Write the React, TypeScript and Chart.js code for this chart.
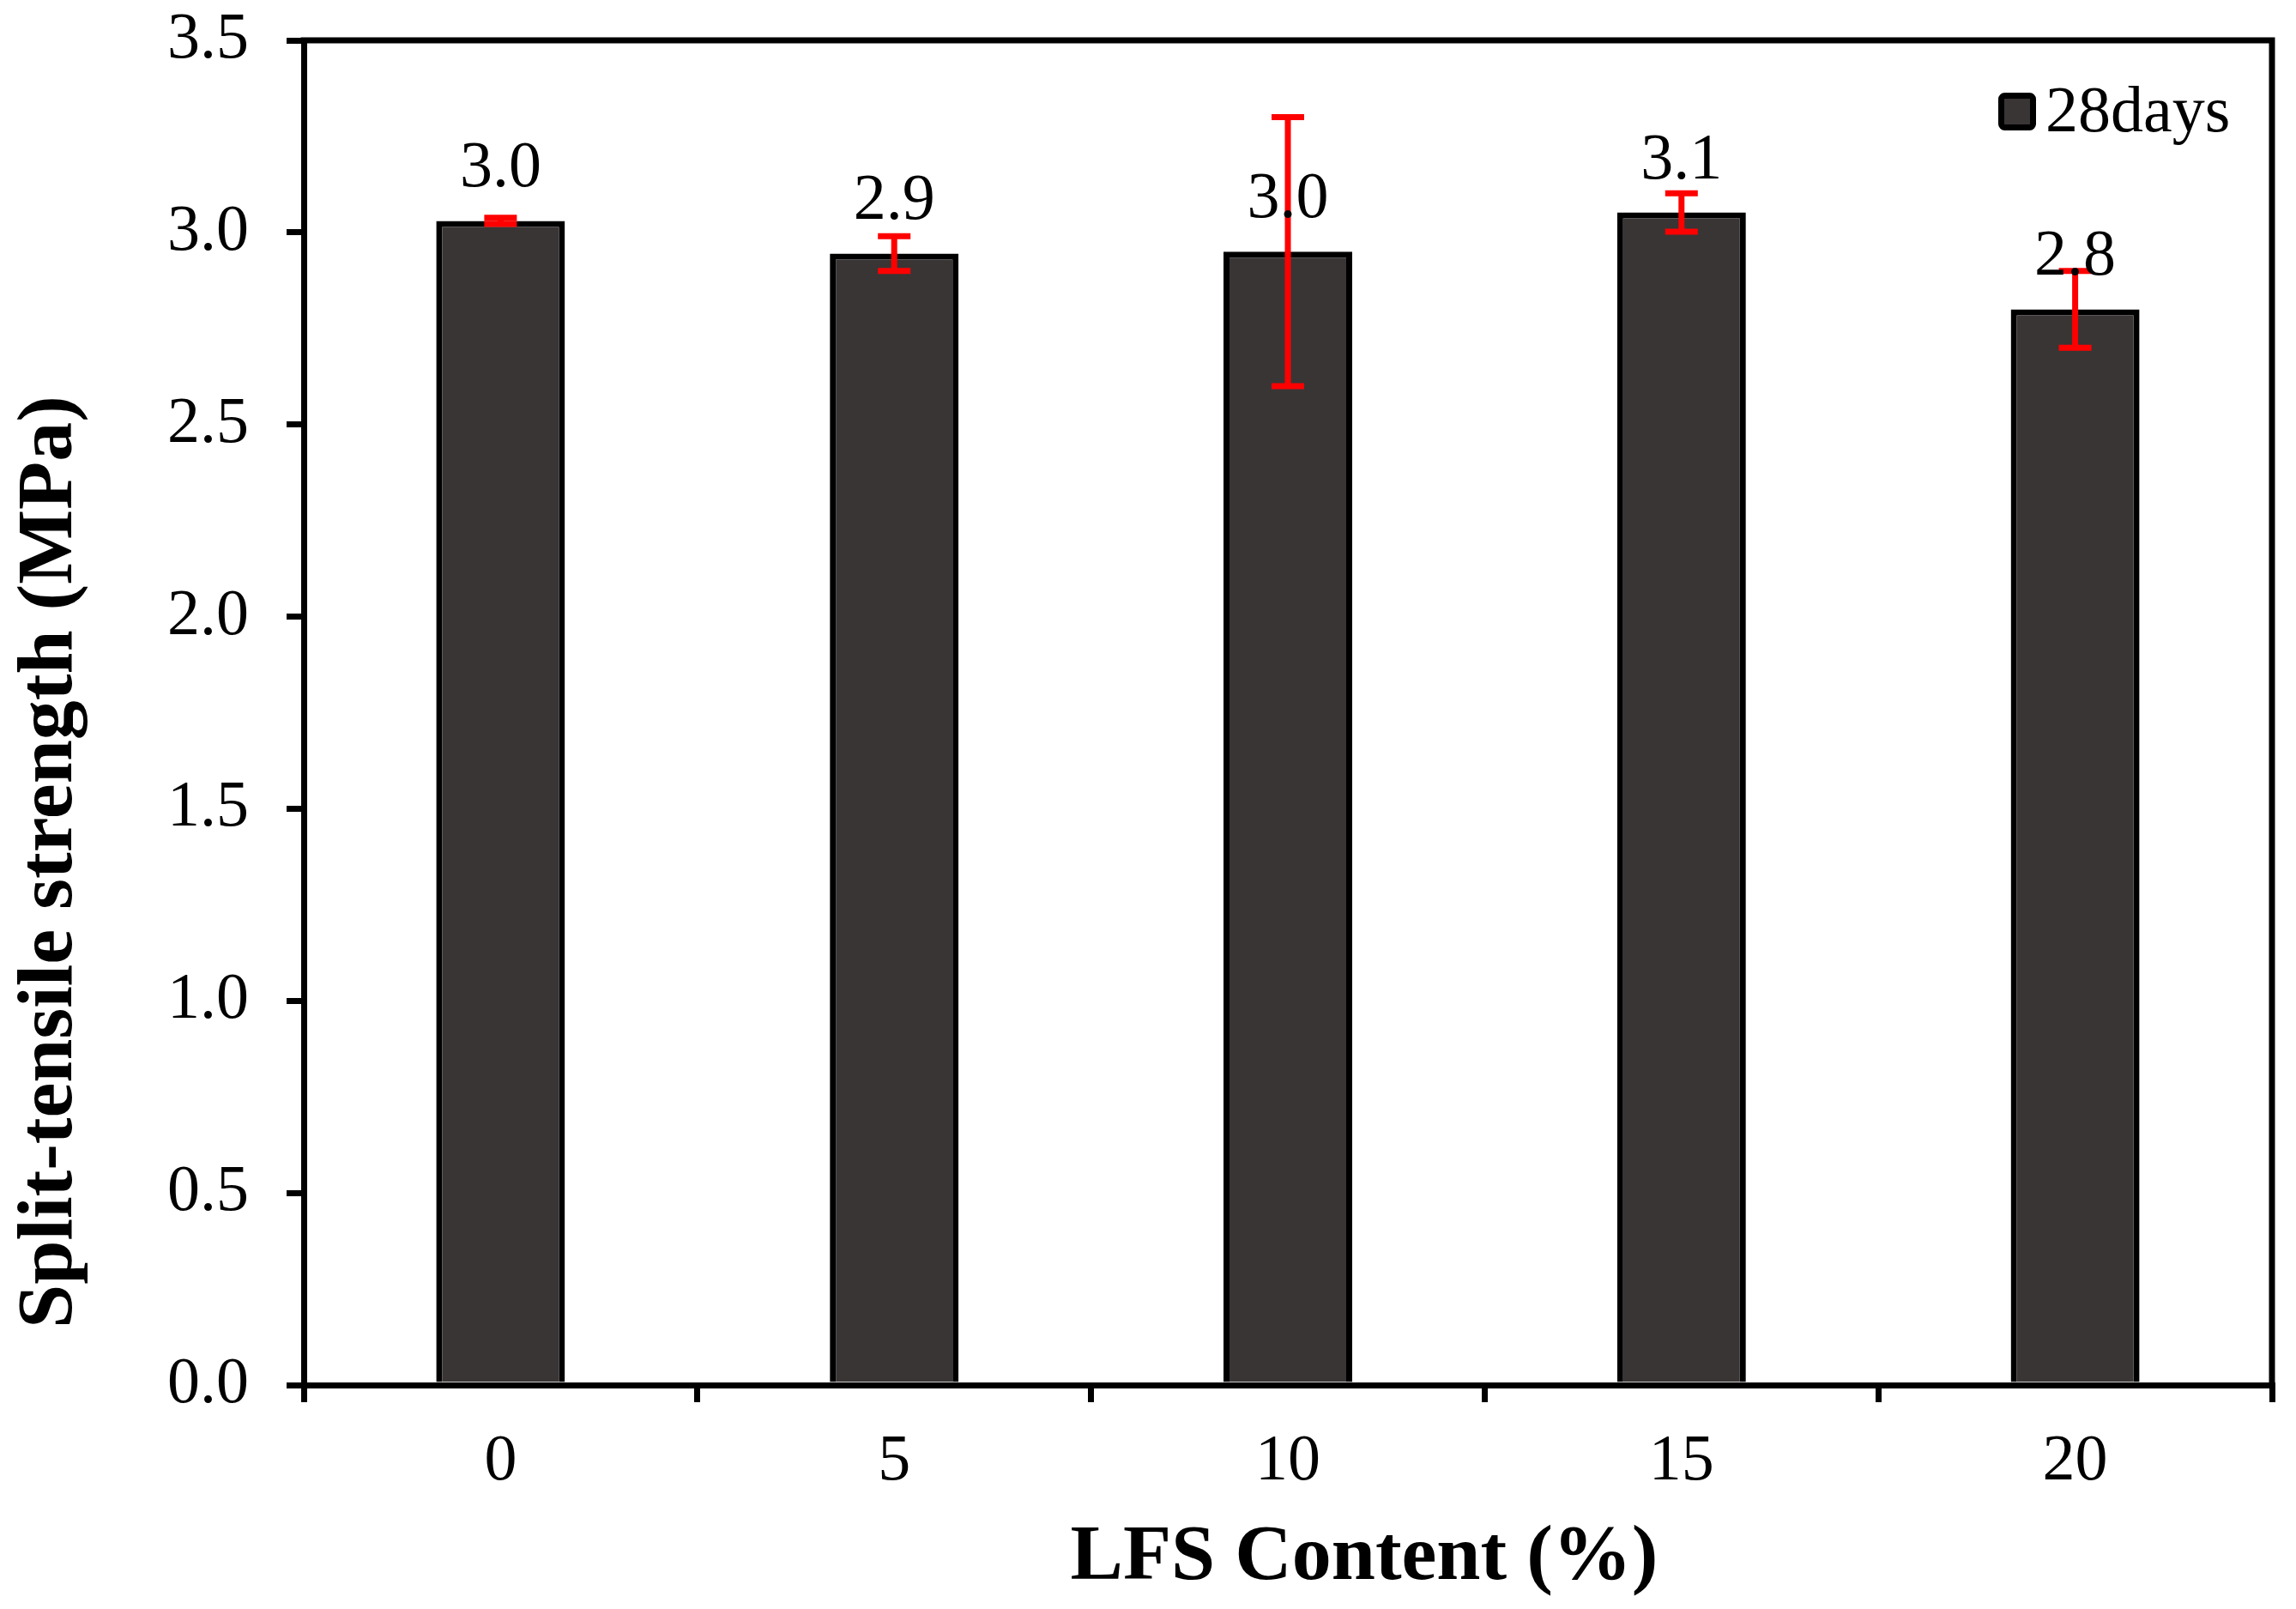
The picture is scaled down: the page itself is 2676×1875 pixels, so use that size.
import React, { useEffect, useRef } from 'react';
import { Chart, registerables } from 'chart.js';

Chart.register(...registerables);

// LFS replacement levels (%) and 28-day split-tensile strength (MPa)
const categories = ['0', '5', '10', '15', '20'];
const strength28 = [3.03, 2.945, 2.95, 3.052, 2.8];
const errors28 = [0.008, 0.045, 0.35, 0.05, 0.1];
const yTicks = [0, 0.5, 1, 1.5, 2, 2.5, 3, 3.5];

const FONT = '"Liberation Serif", "Times New Roman", serif';
const BAR_FILL = '#393534';

const decorations = {
  id: 'decorations',
  afterDatasetsDraw(chart: any) {
    const { ctx, scales } = chart;
    const y = scales.y;
    const meta = chart.getDatasetMeta(0);

    // red error bars
    ctx.save();
    ctx.strokeStyle = '#ff0000';
    ctx.lineWidth = 7;
    meta.data.forEach((bar: any, i: number) => {
      const v = strength28[i];
      const e = errors28[i];
      const yt = y.getPixelForValue(v + e);
      const yb = y.getPixelForValue(v - e);
      ctx.beginPath();
      ctx.moveTo(bar.x, yt);
      ctx.lineTo(bar.x, yb);
      ctx.moveTo(bar.x - 19, yt);
      ctx.lineTo(bar.x + 19, yt);
      ctx.moveTo(bar.x - 19, yb);
      ctx.lineTo(bar.x + 19, yb);
      ctx.stroke();
    });

    // value labels
    ctx.fillStyle = '#000';
    ctx.font = `76px ${FONT}`;
    ctx.textAlign = 'center';
    ctx.textBaseline = 'alphabetic';
    meta.data.forEach((bar: any, i: number) => {
      ctx.fillText(strength28[i].toFixed(1), bar.x, bar.y - 40);
    });
    ctx.restore();
  },
  afterDraw(chart: any) {
    const { ctx, chartArea: a } = chart;
    ctx.save();

    // top and right frame
    ctx.strokeStyle = '#000';
    ctx.lineWidth = 7;
    ctx.lineCap = 'square';
    ctx.beginPath();
    ctx.moveTo(a.left, a.top);
    ctx.lineTo(a.right, a.top);
    ctx.lineTo(a.right, a.bottom);
    ctx.stroke();
    ctx.lineCap = 'butt';

    // legend
    const bx = a.right - 319;
    const by = a.top + 61;
    ctx.fillStyle = BAR_FILL;
    ctx.beginPath();
    ctx.roundRect(bx + 3.5, by + 3.5, 37, 37, 4);
    ctx.fill();
    ctx.stroke();
    ctx.fillStyle = '#000';
    ctx.font = `76px ${FONT}`;
    ctx.textAlign = 'left';
    ctx.textBaseline = 'alphabetic';
    ctx.fillText(chart.data.datasets[0].label, bx + 55, by + 45);

    // axis titles
    ctx.font = `bold 92px ${FONT}`;
    ctx.textAlign = 'center';
    ctx.fillText('LFS Content (%)', (a.left + a.right) / 2 + 89, a.bottom + 226);
    ctx.translate(a.left - 271, (a.top + a.bottom) / 2 + 174);
    ctx.rotate(-Math.PI / 2);
    ctx.fillText('Split-tensile strength (MPa)', 0, 0);
    ctx.restore();
  },
};

export default function App() {
  const canvasRef = useRef<HTMLCanvasElement>(null);

  useEffect(() => {
    const chart = new Chart(canvasRef.current as HTMLCanvasElement, {
      type: 'bar',
      data: {
        labels: categories,
        datasets: [
          {
            label: '28days',
            data: strength28,
            backgroundColor: BAR_FILL,
            borderColor: '#000',
            borderWidth: 7,
            barPercentage: 0.327,
            categoryPercentage: 1,
          },
        ],
      },
      options: {
        responsive: true,
        maintainAspectRatio: false,
        animation: false,
        layout: { padding: { top: 47, right: 28, left: 0, bottom: 0 } },
        plugins: {
          legend: { display: false },
          tooltip: { enabled: false },
        },
        scales: {
          x: {
            offset: true,
            grid: {
              offset: true,
              drawOnChartArea: false,
              drawTicks: true,
              tickLength: 20,
              color: '#000',
              lineWidth: 7,
            },
            border: { display: true, color: '#000', width: 7 },
            ticks: {
              color: '#000',
              font: { family: FONT, size: 76 },
              padding: 24,
              maxRotation: 0,
            },
            afterFit: (s: any) => {
              s.height = 261;
              s.paddingLeft = 0;
              s.paddingRight = 0;
            },
          },
          y: {
            min: 0,
            max: 3.5,
            afterBuildTicks: (s: any) => {
              s.ticks = yTicks.map((value) => ({ value }));
            },
            grid: {
              drawOnChartArea: false,
              drawTicks: true,
              tickLength: 20,
              color: '#000',
              lineWidth: 7,
            },
            border: { display: true, color: '#000', width: 7 },
            ticks: {
              color: '#000',
              font: { family: FONT, size: 76 },
              padding: 44,
              callback: (v: any) => Number(v).toFixed(1),
            },
            afterFit: (s: any) => {
              s.width = 354;
              s.paddingTop = 0;
              s.paddingBottom = 0;
            },
          },
        },
      },
      plugins: [decorations],
    });
    return () => {
      chart.destroy();
    };
  }, []);

  return (
    <div style={{ position: 'fixed', left: 0, top: 0, width: 2676, height: 1875, background: '#fff' }}>
      <canvas ref={canvasRef} />
    </div>
  );
}
